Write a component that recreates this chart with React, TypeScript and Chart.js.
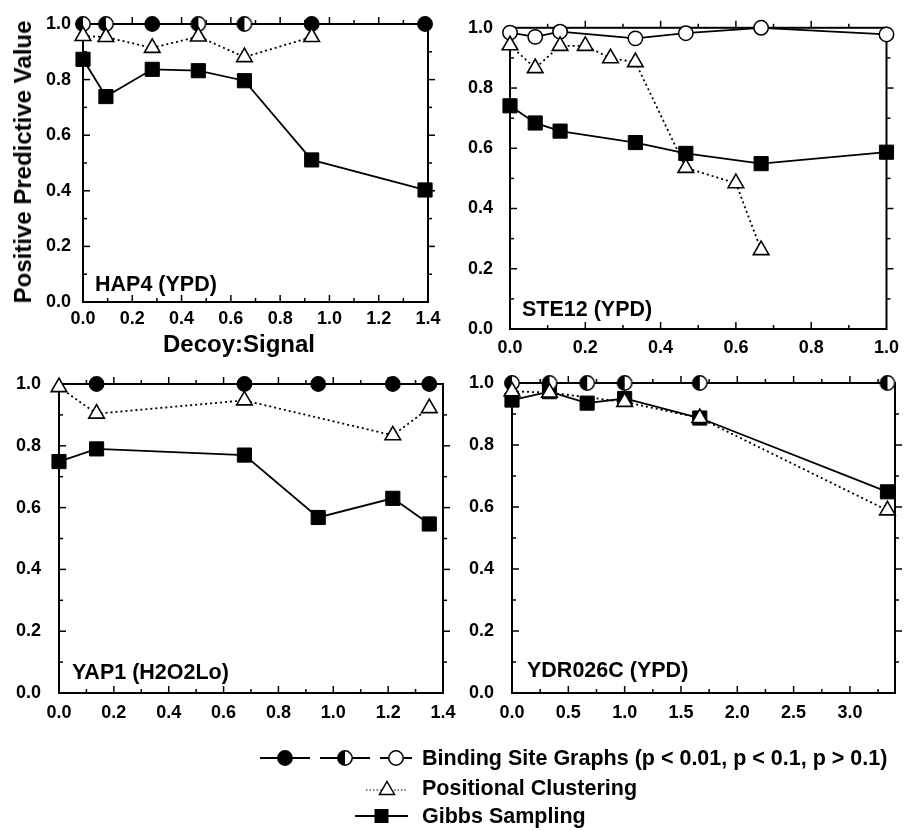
import React, { useEffect, useRef } from 'react';
import { Chart, registerables } from 'chart.js';

Chart.register(...registerables);

const W = 907;
const H = 831;
const FONT = "'Liberation Sans', Arial, Helvetica, sans-serif";

// ---------- HAP4 (YPD) ----------
const HAP4_X = [0, 0.093, 0.281, 0.468, 0.655, 0.928, 1.388];
const HAP4_BSG_Y = [1, 1, 1, 1, 1, 1, 1];
const HAP4_BSG_SIG = ['mid', 'mid', 'high', 'mid', 'mid', 'high', 'high'];
const HAP4_PC_X = [0, 0.093, 0.281, 0.468, 0.655, 0.928];
const HAP4_PC_Y = [0.957, 0.953, 0.914, 0.955, 0.881, 0.953];
const HAP4_GIBBS_Y = [0.873, 0.739, 0.837, 0.832, 0.796, 0.511, 0.403];

// ---------- STE12 (YPD) ----------
const STE12_X = [0, 0.067, 0.133, 0.333, 0.467, 0.667, 1.0];
const STE12_BSG_Y = [0.984, 0.97, 0.987, 0.965, 0.982, 1.0, 0.978];
const STE12_BSG_SIG = ['low', 'low', 'low', 'low', 'low', 'low', 'low'];
const STE12_PC_X = [0, 0.067, 0.133, 0.2, 0.267, 0.333, 0.467, 0.6, 0.667];
const STE12_PC_Y = [0.942, 0.866, 0.94, 0.94, 0.899, 0.886, 0.535, 0.484, 0.262];
const STE12_GIBBS_Y = [0.741, 0.684, 0.657, 0.619, 0.583, 0.549, 0.587];

// ---------- YAP1 (H2O2Lo) ----------
const YAP1_BSG_X = [0.137, 0.676, 0.945, 1.217, 1.35];
const YAP1_BSG_Y = [1, 1, 1, 1, 1];
const YAP1_BSG_SIG = ['high', 'high', 'high', 'high', 'high'];
const YAP1_PC_X = [0, 0.137, 0.676, 1.217, 1.35];
const YAP1_PC_Y = [0.99, 0.904, 0.947, 0.834, 0.922];
const YAP1_GIBBS_X = [0, 0.137, 0.676, 0.945, 1.217, 1.35];
const YAP1_GIBBS_Y = [0.749, 0.79, 0.77, 0.568, 0.63, 0.547];

// ---------- YDR026C (YPD) ----------
const YDR_X = [0, 0.333, 0.667, 1.0, 1.667, 3.333];
const YDR_BSG_Y = [1, 1, 1, 1, 1, 1];
const YDR_BSG_SIG = ['mid', 'mid', 'mid', 'mid', 'mid', 'mid'];
const YDR_PC_X = [0, 0.333, 1.0, 1.667, 3.333];
const YDR_PC_Y = [0.973, 0.969, 0.939, 0.887, 0.589];
const YDR_GIBBS_Y = [0.945, 0.972, 0.935, 0.95, 0.887, 0.649];

// ---------- Axis / legend text ----------
const Y_TITLE = 'Positive Predictive Value';
const X_TITLE = 'Decoy:Signal';
const LEGEND_BSG = 'Binding Site Graphs (p < 0.01, p < 0.1, p > 0.1)';
const LEGEND_PC = 'Positional Clustering';
const LEGEND_GIBBS = 'Gibbs Sampling';

type Panel = {
  name: string;
  xMax: number;
  xStep: number;
  area: { l: number; r: number; t: number; b: number };
  xPad: number;
  yPad: number;
  label: { x: number; y: number };
  bsgX: number[];
  bsgY: number[];
  bsgSig: string[];
  pcX: number[];
  pcY: number[];
  gibbsX: number[];
  gibbsY: number[];
};

const PANELS: Panel[] = [
  {
    name: 'HAP4 (YPD)', xMax: 1.4, xStep: 0.2,
    area: { l: 83, r: 428, t: 24, b: 302 }, xPad: 6, yPad: 12,
    label: { x: 95, y: 284 },
    bsgX: HAP4_X, bsgY: HAP4_BSG_Y, bsgSig: HAP4_BSG_SIG,
    pcX: HAP4_PC_X, pcY: HAP4_PC_Y, gibbsX: HAP4_X, gibbsY: HAP4_GIBBS_Y,
  },
  {
    name: 'STE12 (YPD)', xMax: 1.0, xStep: 0.2,
    area: { l: 510, r: 895, t: 20, b: 329 }, xPad: 8, yPad: 17,
    label: { x: 522, y: 309 },
    bsgX: STE12_X, bsgY: STE12_BSG_Y, bsgSig: STE12_BSG_SIG,
    pcX: STE12_PC_X, pcY: STE12_PC_Y, gibbsX: STE12_X, gibbsY: STE12_GIBBS_Y,
  },
  {
    name: 'YAP1 (H2O2Lo)', xMax: 1.4, xStep: 0.2,
    area: { l: 59, r: 443, t: 384, b: 693 }, xPad: 9, yPad: 18,
    label: { x: 72, y: 672 },
    bsgX: YAP1_BSG_X, bsgY: YAP1_BSG_Y, bsgSig: YAP1_BSG_SIG,
    pcX: YAP1_PC_X, pcY: YAP1_PC_Y, gibbsX: YAP1_GIBBS_X, gibbsY: YAP1_GIBBS_Y,
  },
  {
    name: 'YDR026C (YPD)', xMax: 3.4, xStep: 0.5,
    area: { l: 512, r: 895, t: 383, b: 693 }, xPad: 9, yPad: 18,
    label: { x: 527, y: 670 },
    bsgX: YDR_X, bsgY: YDR_BSG_Y, bsgSig: YDR_BSG_SIG,
    pcX: YDR_PC_X, pcY: YDR_PC_Y, gibbsX: YDR_X, gibbsY: YDR_GIBBS_Y,
  },
];

const CIRCLE_R = 7.2;

function makeHalfCircle(): HTMLCanvasElement {
  const c = document.createElement('canvas');
  const s = 18;
  c.width = s;
  c.height = s;
  const ctx = c.getContext('2d')!;
  const cx = s / 2, cy = s / 2, r = CIRCLE_R;
  ctx.beginPath();
  ctx.arc(cx, cy, r, -Math.PI / 2, Math.PI / 2);
  ctx.closePath();
  ctx.fillStyle = '#fff';
  ctx.fill();
  ctx.beginPath();
  ctx.arc(cx, cy, r, Math.PI / 2, (3 * Math.PI) / 2);
  ctx.closePath();
  ctx.fillStyle = '#000';
  ctx.fill();
  ctx.beginPath();
  ctx.arc(cx, cy, r, 0, Math.PI * 2);
  ctx.lineWidth = 1.5;
  ctx.strokeStyle = '#000';
  ctx.stroke();
  return c;
}

const frameTicks = {
  id: 'frameTicks',
  beforeDatasetsDraw(chart: any, _args: any, opts: any) {
    const { ctx, chartArea: a, scales } = chart;
    const x = scales.x;
    const y = scales.y;
    ctx.save();
    ctx.strokeStyle = '#000';
    ctx.lineWidth = 1.5;
    const seg = (x1: number, y1: number, x2: number, y2: number) => {
      ctx.beginPath();
      ctx.moveTo(x1, y1);
      ctx.lineTo(x2, y2);
      ctx.stroke();
    };
    const xMinor = opts.xStep / 2;
    for (let i = 1; i * xMinor < x.max - 1e-6; i++) {
      const px = x.getPixelForValue(i * xMinor);
      const len = i % 2 === 0 ? 7 : 4;
      seg(px, a.bottom, px, a.bottom - len);
      seg(px, a.top, px, a.top - len);
    }
    for (let i = 1; i < 10; i++) {
      const py = y.getPixelForValue(i * 0.1);
      const len = i % 2 === 0 ? 7 : 4;
      seg(a.left, py, a.left + len, py);
      seg(a.right, py, a.right + len, py);
    }
    ctx.lineWidth = 2;
    ctx.strokeRect(a.left, a.top, a.right - a.left, a.bottom - a.top);
    ctx.restore();
  },
};

function pts(xs: number[], ys: number[]) {
  return xs.map((x, i) => ({ x, y: ys[i] }));
}

function PanelChart({ p }: { p: Panel }) {
  const ref = useRef<HTMLCanvasElement>(null);
  useEffect(() => {
    const half = makeHalfCircle();
    const styles = p.bsgSig.map((s) => (s === 'mid' ? half : 'circle'));
    const fills = p.bsgSig.map((s) => (s === 'high' ? '#000' : '#fff'));
    const tickFont = { family: FONT, size: 18, weight: 'bold' as const };
    const chart = new Chart(ref.current!, {
      type: 'scatter',
      data: {
        datasets: [
          {
            label: 'Positional Clustering',
            data: pts(p.pcX, p.pcY),
            showLine: true,
            borderColor: '#000',
            borderWidth: 1.8,
            borderDash: [2, 3],
            pointStyle: 'triangle',
            pointRadius: 9,
            pointBackgroundColor: '#fff',
            pointBorderColor: '#000',
            pointBorderWidth: 1.6,
            clip: false as any,
            order: 0,
          },
          {
            label: 'Binding Site Graphs',
            data: pts(p.bsgX, p.bsgY),
            showLine: true,
            borderColor: '#000',
            borderWidth: 1.8,
            pointStyle: styles as any,
            pointRadius: CIRCLE_R,
            pointBackgroundColor: fills,
            pointBorderColor: '#000',
            pointBorderWidth: 1.5,
            clip: false as any,
            order: 1,
          },
          {
            label: 'Gibbs Sampling',
            data: pts(p.gibbsX, p.gibbsY),
            showLine: true,
            borderColor: '#000',
            borderWidth: 1.8,
            pointStyle: 'rect',
            pointRadius: 10,
            pointBackgroundColor: '#000',
            pointBorderColor: '#000',
            pointBorderWidth: 1,
            clip: false as any,
            order: 2,
          },
        ],
      },
      options: {
        responsive: false,
        animation: false,
        events: [],
        layout: {
          padding: { left: 0, top: p.area.t, right: W - p.area.r, bottom: 0 },
        },
        plugins: {
          legend: { display: false },
          tooltip: { enabled: false },
          frameTicks: { xStep: p.xStep },
        } as any,
        scales: {
          x: {
            type: 'linear',
            min: 0,
            max: p.xMax,
            grid: { display: false, drawTicks: false, tickLength: 0 },
            border: { display: false },
            ticks: {
              stepSize: p.xStep,
              includeBounds: false,
              autoSkip: false,
              maxRotation: 0,
              padding: p.xPad,
              color: '#000',
              font: tickFont,
              callback: (v: any) => Number(v).toFixed(1),
            },
            afterFit: (s: any) => {
              s.height = H - p.area.b;
            },
          },
          y: {
            type: 'linear',
            min: 0,
            max: 1,
            grid: { display: false, drawTicks: false, tickLength: 0 },
            border: { display: false },
            ticks: {
              stepSize: 0.2,
              padding: p.yPad,
              color: '#000',
              font: tickFont,
              callback: (v: any) => Number(v).toFixed(1),
            },
            afterFit: (s: any) => {
              s.width = p.area.l;
            },
          },
        },
      },
      plugins: [frameTicks],
    });
    return () => chart.destroy();
  }, [p]);
  return (
    <canvas
      ref={ref}
      width={W}
      height={H}
      style={{ position: 'absolute', left: 0, top: 0, width: W, height: H, pointerEvents: 'none' }}
    />
  );
}

const textBase: React.CSSProperties = {
  position: 'absolute',
  fontFamily: FONT,
  fontWeight: 'bold',
  color: '#000',
  whiteSpace: 'nowrap',
  lineHeight: 1,
};

const LEGEND_TEXT_X = 422;
const LEGEND_FONT = 21.5;

function LegendRow({ y, text, children }: { y: number; text: string; children: React.ReactNode }) {
  return (
    <>
      <svg
        width={200}
        height={24}
        style={{ position: 'absolute', left: 220, top: y - 12 }}
        viewBox="220 -12 200 24"
      >
        {children}
      </svg>
      <div style={{ ...textBase, left: LEGEND_TEXT_X, top: y - 10.5, fontSize: LEGEND_FONT }}>{text}</div>
    </>
  );
}

export default function App() {
  return (
    <div style={{ position: 'absolute', left: 0, top: 0, width: W, height: H, background: '#fff', overflow: 'hidden' }}>
      {PANELS.map((p) => (
        <PanelChart key={p.name} p={p} />
      ))}
      {PANELS.map((p) => (
        <div key={p.name + '-lbl'} style={{ ...textBase, left: p.label.x, top: p.label.y - 10.5, fontSize: 21.5 }}>
          {p.name}
        </div>
      ))}
      <div
        style={{
          ...textBase,
          fontSize: 24,
          left: 23,
          top: 162,
          transform: 'translate(-50%, -50%) rotate(-90deg)',
        }}
      >
        {Y_TITLE}
      </div>
      <div style={{ ...textBase, fontSize: 24, left: 239, top: 344, transform: 'translate(-50%, -50%)' }}>
        {X_TITLE}
      </div>

      <LegendRow y={758} text={LEGEND_BSG}>
        <line x1={260} y1={0} x2={310} y2={0} stroke="#000" strokeWidth={2} />
        <circle cx={285} cy={0} r={7.2} fill="#000" stroke="#000" strokeWidth={1.5} />
        <line x1={320} y1={0} x2={370} y2={0} stroke="#000" strokeWidth={2} />
        <circle cx={345} cy={0} r={7.2} fill="#fff" stroke="#000" strokeWidth={1.5} />
        <path d="M345,-7.2 A7.2,7.2 0 0,0 345,7.2 Z" fill="#000" />
        <line x1={380} y1={0} x2={412} y2={0} stroke="#000" strokeWidth={2} />
        <line x1={370} y1={0} x2={380} y2={0} stroke="#fff" strokeWidth={0} />
        <circle cx={396} cy={0} r={7.2} fill="#fff" stroke="#000" strokeWidth={1.5} />
      </LegendRow>
      <LegendRow y={788} text={LEGEND_PC}>
        <line x1={366} y1={2} x2={408} y2={2} stroke="#000" strokeWidth={1} strokeDasharray="1.5 2" />
        <path d="M387,-6.5 L394.5,6.5 L379.5,6.5 Z" fill="#fff" stroke="#000" strokeWidth={1.5} />
      </LegendRow>
      <LegendRow y={816} text={LEGEND_GIBBS}>
        <line x1={355} y1={0} x2={408} y2={0} stroke="#000" strokeWidth={2} />
        <rect x={374.5} y={-7} width={14} height={14} fill="#000" />
      </LegendRow>
    </div>
  );
}
